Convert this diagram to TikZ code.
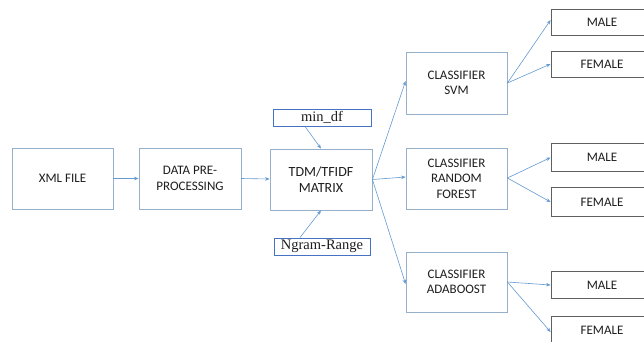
\documentclass[tikz,border=0pt]{standalone}
\usepackage{fontspec}
\setmainfont{Carlito}
\newfontfamily\paramfont{Liberation Serif}
\usetikzlibrary{arrows.meta}
\definecolor{boxline}{RGB}{150,175,202}
\definecolor{leafline}{RGB}{95,95,95}
\definecolor{paramline}{RGB}{70,114,196}
\definecolor{flow}{RGB}{100,155,210}
\definecolor{ink}{RGB}{30,30,30}
\tikzset{
  stage/.style={draw=boxline, line width=0.8pt, minimum width=101pt, minimum height=61pt,
    align=center, text=ink, font=\fontsize{13}{15.5}\selectfont, inner sep=0pt},
  leaf/.style={draw=leafline, line width=0.8pt, minimum width=102pt, minimum height=27pt,
    align=center, text=ink, font=\fontsize{13}{15.5}\selectfont, inner sep=0pt},
  param/.style={draw=paramline, line width=0.9pt, minimum height=17pt,
    text=ink, font=\paramfont\fontsize{14.5}{16}\selectfont, inner sep=0pt},
  link/.style={draw=flow, line width=0.6pt, -{Stealth[length=4.5pt,width=3.5pt]}}
}
\begin{document}
\begin{tikzpicture}[x=1pt,y=-1pt]
\clip (0,0) rectangle (644,341);
\useasboundingbox (0,0) rectangle (644,341);
\fill[white] (0,0) rectangle (644,341);

% pipeline stages
\node[stage] (xml) at (62.5,178.5) {XML FILE};
\node[stage, minimum width=102pt] (prep) at (190,178.5) {DATA PRE-\\PROCESSING};
\node[stage, minimum width=102pt, font=\fontsize{14}{16}\selectfont] (tdm) at (321,179.5) {TDM/TFIDF\\MATRIX};

% vectoriser parameters
\node[param, minimum width=98pt] (mindf) at (322,117.5) {min\_df};
\node[param, minimum width=96pt] (ngram) at (322,246.5) {Ngram-Range};

% classifiers
\node[stage, minimum height=62pt] (svm) at (456.5,83) {CLASSIFIER\\SVM};
\node[stage] (rf) at (456.5,178.5) {CLASSIFIER\\RANDOM\\FOREST};
\node[stage, minimum height=60pt] (ada) at (456.5,282) {CLASSIFIER\\ADABOOST};

% predicted classes
\node[leaf, minimum height=26pt] (m1) at (602,22) {MALE};
\node[leaf, minimum height=26pt] (f1) at (602,64) {FEMALE};
\node[leaf, minimum height=28.5pt] (m2) at (602,157.5) {MALE};
\node[leaf, minimum height=29pt] (f2) at (602,202) {FEMALE};
\node[leaf, minimum height=26.5pt] (m3) at (602,285) {MALE};
\node[leaf, minimum height=28pt] (f3) at (602,330) {FEMALE};

% connectors
\draw[link] (xml.east) -- (prep.west);
\draw[link] (prep.east) -- ([yshift=0.5pt]tdm.west);
\draw[link] ([xshift=-17pt]mindf.south) -- (tdm.north);
\draw[link] ([xshift=-22pt]ngram.north) -- (tdm.south);
\draw[link] (tdm.east) -- ([yshift=2pt]svm.west);
\draw[link] (tdm.east) -- ([yshift=1.5pt]rf.west);
\draw[link] (tdm.east) -- ([yshift=-2pt]ada.west);
\draw[link] (svm.east) -- ([yshift=2pt]m1.west);
\draw[link] (svm.east) -- (f1.west);
\draw[link] ([yshift=0.5pt]rf.east) -- (m2.west);
\draw[link] ([yshift=0.5pt]rf.east) -- (f2.west);
\draw[link] (ada.east) -- (m3.west);
\draw[link] (ada.east) -- ([yshift=-2pt]f3.west);
\end{tikzpicture}
\end{document}
